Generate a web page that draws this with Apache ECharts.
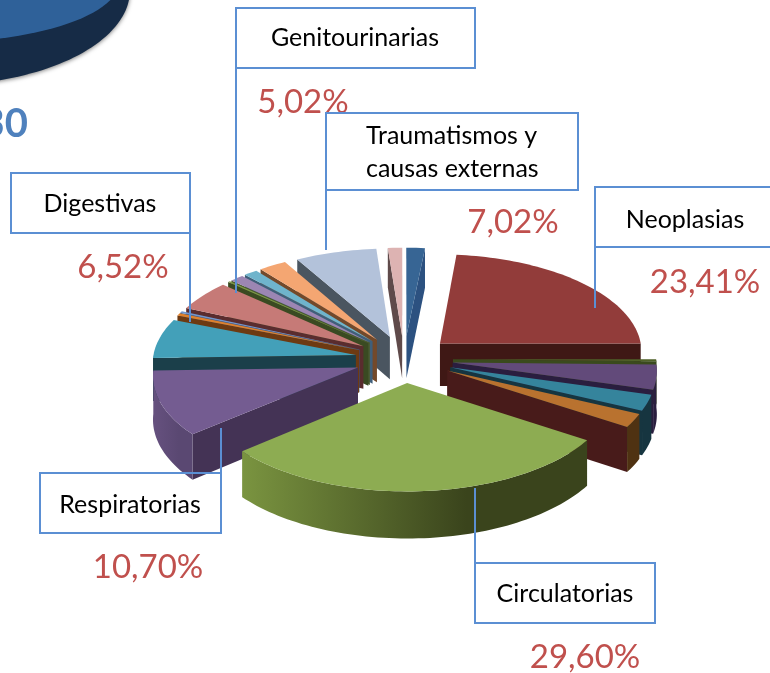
<!DOCTYPE html>
<html>
<head>
<meta charset="utf-8">
<style>html,body{margin:0;padding:0;background:#fff}#main{width:770px;height:673px}</style>
<script src="https://cdn.jsdelivr.net/npm/echarts@6/dist/echarts.min.js"></script>
</head>
<body>
<div id="main"></div>
<script>
// shares clockwise from 12 o'clock, percent
const shares = [1.6, 23.41, 0.3, 4.1, 2.6, 2.2, 29.6, 10.7, 6.52, 0.4, 0.3, 5.02, 0.2, 1.2, 1.2, 2.4, 7.02, 1.23];
const topColors = ['#376594', '#923C3A', '#4F6128', '#624A7A', '#35849C', '#B9722F', '#8DAC52', '#745C91', '#43A0B9', '#E0812C', '#7096CE', '#C67A77', '#7E9A48', '#9C86B3', '#6FB4CC', '#F4A672', '#B3C2DA', '#DDB3B2'];
const cutColors = ['#2C5180', '#3F1815', '#3A4A1D', '#2A1E3F', '#163540', '#481B1A', '#3A441C', '#443355', '#1B3F4A', '#6D3A12', '#3F5F86', '#5A2C2E', '#3A4A22', '#4A5A30', '#3F5F7A', '#73492A', '#4A5560', '#5F4A4A'];
const arcLeft = ['#2C5180', '#3F1815', '#3A4A1D', '#2A1E3F', '#163540', '#4F3212', '#7A9440', '#66517F', '#1B3F4A', '#6D3A12', '#3F5F86', '#5A2C2E', '#3A4A22', '#4A5A30', '#3F5F7A', '#73492A', '#4A5560', '#5F4A4A'];
const arcRight = ['#2C5180', '#3F1815', '#3A4A1D', '#2A1E3F', '#163540', '#4F3212', '#3A441C', '#5A4872', '#1B3F4A', '#6D3A12', '#3F5F86', '#5A2C2E', '#3A4A22', '#4A5A30', '#3F5F7A', '#73492A', '#4A5560', '#5F4A4A'];

// callouts: name, index of the slice in shares
const calloutNames = ['Genitourinarias', 'Traumatismos y\ncausas externas', 'Neoplasias', 'Digestivas', 'Respiratorias', 'Circulatorias'];
const calloutSlices = [11, 16, 1, 8, 7, 6];

const CX = 404, CY = 359, R = 203, K = 0.48, THICK = 43, EXPLODE = 49, PERSP = 0.07;

function project(X, Y, Z) {
  const s = 1 / (1 - PERSP * Y / R);
  return [CX + X * s, CY + Y * K * s + Z * s];
}
// angle is clockwise from north, degrees
function rim(deg, dx, dy, Z) {
  const a = deg * Math.PI / 180;
  return project(dx + R * Math.sin(a), dy - R * Math.cos(a), Z);
}

const slices = [];
let acc = 0;
shares.forEach((v, i) => {
  slices.push({ index: i, start: acc * 3.6, end: (acc + v) * 3.6 });
  acc += v;
});
const order = slices.slice().sort((a, b) =>
  -Math.cos((a.start + a.end) / 360 * Math.PI) + Math.cos((b.start + b.end) / 360 * Math.PI));

function renderSlice(params, api) {
  const idx = api.value(0), start = api.value(1), end = api.value(2);
  const mid = (start + end) / 2 * Math.PI / 180;
  const dx = EXPLODE * Math.sin(mid), dy = -EXPLODE * Math.cos(mid);
  const children = [];
  const apexTop = project(dx, dy, 0), apexLow = project(dx, dy, THICK);
  const sin = d => Math.sin(d * Math.PI / 180);

  const wall = d => ({
    type: 'polygon',
    shape: { points: [apexTop, rim(d, dx, dy, 0), rim(d, dx, dy, THICK), apexLow] },
    style: { fill: cutColors[idx] }
  });
  if (sin(start) < 0) children.push(wall(start));
  if (sin(end) > 0) children.push(wall(end));

  // outer rim, only the part that faces the viewer
  const a0 = Math.max(start, 90), a1 = Math.min(end, 270);
  if (a1 > a0) {
    const up = [], down = [];
    for (let d = a0; ; d += 1.5) {
      const t = Math.min(d, a1);
      up.push(rim(t, dx, dy, 0));
      down.unshift(rim(t, dx, dy, THICK));
      if (d >= a1) break;
    }
    children.push({
      type: 'polygon',
      shape: { points: up.concat(down) },
      style: {
        fill: new echarts.graphic.LinearGradient(1, 0, 0, 0, [
          { offset: 0, color: arcRight[idx] },
          { offset: 0.35, color: arcRight[idx] },
          { offset: 1, color: arcLeft[idx] }
        ])
      }
    });
  }

  const face = [apexTop];
  for (let d = start; ; d += 1.5) {
    const t = Math.min(d, end);
    face.push(rim(t, dx, dy, 0));
    if (d >= end) break;
  }
  children.push({ type: 'polygon', shape: { points: face }, style: { fill: topColors[idx] } });
  return { type: 'group', children };
}

const BLUE = '#5B8FD3', PCT = '#C0504D';
const boxes = [
  { b: [236, 8, 239, 60], line: [236, 68, 293], t: [355, 38], p: [303, 102] },
  { b: [326, 113, 252, 77], line: [326, 190, 250], t: [366, 152], p: [513, 222], left: true, white: true },
  { b: [595, 187, 190, 60], line: [595, 247, 308], t: [685, 220], p: [705, 282] },
  { b: [11, 173, 179, 60], line: [190, 233, 322], t: [100, 204], p: [123, 267] },
  { b: [40, 473, 181, 60], line: [221, 473, 428], t: [130, 505], p: [148, 567] },
  { b: [475, 563, 180, 60], line: [475, 563, 488], t: [565, 594], p: [585, 657] }
];

const graphic = [
  { type: 'ellipse', shape: { cx: -60, cy: -10, rx: 190, ry: 95 }, z: 1,
    style: { fill: '#162B46', shadowBlur: 4, shadowColor: 'rgba(0,0,0,0.5)', shadowOffsetY: 1 } },
  { type: 'ellipse', shape: { cx: -60, cy: -20, rx: 180, ry: 62 }, z: 2, style: { fill: '#2F6199' } },
  { type: 'text', x: 28, y: 124, z: 2, style: { text: '30', fill: '#4F81BD', font: 'bold 40px Lato, sans-serif', align: 'right', verticalAlign: 'middle' } }
];
boxes.forEach((c, i) => {
  graphic.push({
    type: 'text', x: c.p[0], y: c.p[1], z: 20,
    style: { text: shares[calloutSlices[i]].toFixed(2).replace('.', ',') + '%', fill: PCT, font: '33px Lato, sans-serif', align: 'center', verticalAlign: 'middle' }
  });
  graphic.push({
    type: 'rect', z: 21, shape: { x: c.b[0], y: c.b[1], width: c.b[2], height: c.b[3] },
    style: { fill: c.white ? '#fff' : 'none', stroke: BLUE, lineWidth: 2 }
  });
  graphic.push({
    type: 'line', z: 21, shape: { x1: c.line[0], y1: c.line[1], x2: c.line[0], y2: c.line[2] },
    style: { stroke: BLUE, lineWidth: 2 }
  });
  graphic.push({
    type: 'text', x: c.t[0], y: c.t[1], z: 22,
    style: { text: calloutNames[i], fill: '#000', font: '25px Lato, sans-serif', lineHeight: 33, align: c.left ? 'left' : 'center', verticalAlign: 'middle' }
  });
});

const chart = echarts.init(document.getElementById('main'));
chart.setOption({
  animation: false,
  backgroundColor: '#fff',
  graphic: graphic,
  series: [{
    type: 'custom',
    coordinateSystem: 'none',
    renderItem: renderSlice,
    silent: true,
    z: 10,
    data: order.map(s => [s.index, s.start, s.end])
  }]
});
</script>
</body>
</html>
